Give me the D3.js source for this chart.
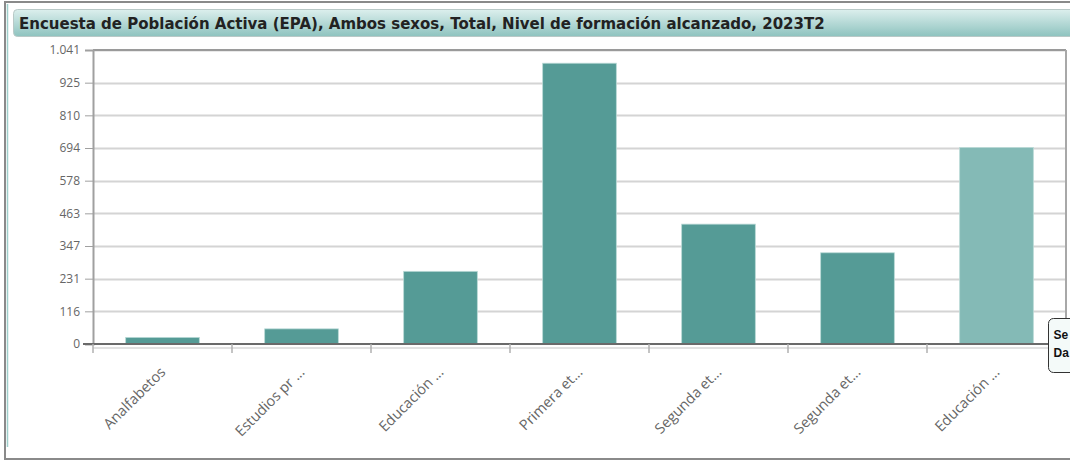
<!DOCTYPE html>
<html>
<head>
<meta charset="utf-8">
<script src="https://cdn.jsdelivr.net/npm/d3@7"></script>
<style>
  body { margin: 0; background: #fff; }
  svg { display: block; }
  .title { font-family: "DejaVu Sans", Verdana, sans-serif; font-weight: bold; font-size: 15px; fill: #222; }
  .ylab { font-family: "Open Sans", sans-serif; font-size: 12px; fill: #666; }
  .xlab { font-family: "Open Sans", sans-serif; font-size: 14.5px; fill: #666; }
  .tip { font-family: "Liberation Sans", Arial, sans-serif; font-weight: bold; font-size: 12px; fill: #111; }
</style>
</head>
<body>
<script>
//chart values
var titleText = "Encuesta de Población Activa (EPA), Ambos sexos, Total, Nivel de formación alcanzado, 2023T2";
var categories = ["Analfabetos", "Estudios pr ...", "Educación ...", "Primera et...", "Segunda et...", "Segunda et...", "Educación ..."];
var values = [23.4, 53.6, 257.3, 994.2, 424.4, 323.0, 695.6];
var yTickValues = [0, 115.67, 231.33, 347, 462.67, 578.33, 694, 809.67, 925.33, 1041];
var highlighted = 6; //bar under the mouse in the picture
var tipLines = ["Se", "Da"]; //tooltip is cut by the window edge

//frame dimensions
var width = 1070,
    height = 461,
    plotLeft = 93,
    plotRight = 1066,
    plotTop = 50,
    plotBottom = 344;

var svg = d3.select("body")
    .append("svg")
    .attr("width", width)
    .attr("height", height);

//gradient for the title bar
var grad = svg.append("defs").append("linearGradient")
    .attr("id", "titleGrad")
    .attr("x1", 0).attr("y1", 0).attr("x2", 0).attr("y2", 1);
grad.append("stop").attr("offset", "0%").attr("stop-color", "#dcefed");
grad.append("stop").attr("offset", "100%").attr("stop-color", "#8ec3bf");

//outer panel border
svg.append("rect")
    .attr("x", 5).attr("y", 2)
    .attr("width", width + 10).attr("height", 457)
    .attr("fill", "none")
    .attr("stroke", "#8a8a8a")
    .attr("stroke-width", 2);
svg.append("line")
    .attr("x1", 7.5).attr("x2", 7.5)
    .attr("y1", 4).attr("y2", 447)
    .attr("stroke", "#9fcfcb")
    .attr("stroke-width", 1.5);

//title bar
svg.append("rect")
    .attr("x", 13.5).attr("y", 9.5)
    .attr("width", width).attr("height", 27)
    .attr("rx", 4)
    .attr("fill", "url(#titleGrad)")
    .attr("stroke", "#b9c9c7");
svg.append("text")
    .attr("class", "title")
    .attr("x", 19)
    .attr("y", 29)
    .text(titleText);

//scales
var x = d3.scaleBand()
    .domain(d3.range(categories.length))
    .range([plotLeft, plotRight])
    .paddingInner(0.47)
    .paddingOuter(0.235);

var band = d3.scaleBand()
    .domain(d3.range(categories.length))
    .range([plotLeft, plotRight]);

var y = d3.scaleLinear()
    .domain([0, 1041])
    .range([plotBottom, plotTop]);

var esLocale = d3.formatLocale({decimal: ",", thousands: ".", grouping: [3], currency: ["", " €"]});
var fmt = esLocale.format(",.0f");

//horizontal grid lines
svg.append("g")
    .selectAll("line")
    .data(yTickValues.slice(1))
    .enter()
    .append("line")
    .attr("x1", plotLeft)
    .attr("x2", plotRight)
    .attr("y1", function(d){ return Math.round(y(d)) + 0.5; })
    .attr("y2", function(d){ return Math.round(y(d)) + 0.5; })
    .attr("stroke", "#d4d4d4")
    .attr("stroke-width", 2);

//top and right frame
svg.append("line")
    .attr("x1", plotLeft).attr("x2", plotRight)
    .attr("y1", plotTop).attr("y2", plotTop)
    .attr("stroke", "#9a9a9a").attr("stroke-width", 2);
svg.append("line")
    .attr("x1", plotRight).attr("x2", plotRight)
    .attr("y1", plotTop).attr("y2", plotBottom)
    .attr("stroke", "#a8a8a8").attr("stroke-width", 2);

//bars
svg.append("g")
    .selectAll("rect")
    .data(values)
    .enter()
    .append("rect")
    .attr("x", function(d, i){ return x(i); })
    .attr("width", x.bandwidth())
    .attr("y", function(d){ return y(d); })
    .attr("height", function(d){ return plotBottom - y(d); })
    .attr("fill", function(d, i){ return i == highlighted ? "#84bab6" : "#559b96"; })
    .attr("stroke", "#b9d9d6")
    .attr("stroke-width", 0.8);

//y axis
var yAxis = d3.axisLeft(y)
    .tickValues(yTickValues)
    .tickFormat(fmt)
    .tickSize(8)
    .tickPadding(5);

var yg = svg.append("g")
    .attr("transform", "translate(" + plotLeft + ",0)")
    .call(yAxis);
yg.select(".domain").attr("stroke", "#a0a0a0").attr("stroke-width", 2);
yg.selectAll(".tick line").attr("stroke", "#a0a0a0");
yg.selectAll(".tick text").attr("class", "ylab").attr("font-family", null).attr("font-size", null);

//x axis: ticks sit on the band boundaries
svg.append("line")
    .attr("x1", plotLeft).attr("x2", plotRight)
    .attr("y1", plotBottom + 4).attr("y2", plotBottom + 4)
    .attr("stroke", "#e2e2e2").attr("stroke-width", 2);
svg.append("line")
    .attr("x1", plotLeft - 10).attr("x2", plotRight)
    .attr("y1", plotBottom).attr("y2", plotBottom)
    .attr("stroke", "#6a6a6a").attr("stroke-width", 2);

svg.append("g")
    .selectAll("line")
    .data(d3.range(categories.length))
    .enter()
    .append("line")
    .attr("x1", function(d){ return band(d); })
    .attr("x2", function(d){ return band(d); })
    .attr("y1", plotBottom)
    .attr("y2", plotBottom + 9)
    .attr("stroke", "#b0b0b0")
    .attr("stroke-width", 1.5);

//rotated category labels
svg.append("g")
    .selectAll("text")
    .data(categories)
    .enter()
    .append("text")
    .attr("class", "xlab")
    .attr("text-anchor", "end")
    .attr("transform", function(d, i){
        var cx = band(i) + band.bandwidth() / 2 + 4;
        return "translate(" + cx + "," + (plotBottom + 29) + ") rotate(-45)";
    })
    .text(function(d){ return d; });

//tooltip, cut off by the right edge
var tip = svg.append("g")
    .attr("transform", "translate(1048.5,318.5)");
tip.append("rect")
    .attr("width", 80).attr("height", 54)
    .attr("rx", 5)
    .attr("fill", "#f4faf9")
    .attr("stroke", "#333")
    .attr("stroke-width", 1);
tip.selectAll("text")
    .data(tipLines)
    .enter()
    .append("text")
    .attr("class", "tip")
    .attr("x", 5)
    .attr("y", function(d, i){ return 20 + i * 18; })
    .text(function(d){ return d; });
</script>
</body>
</html>
